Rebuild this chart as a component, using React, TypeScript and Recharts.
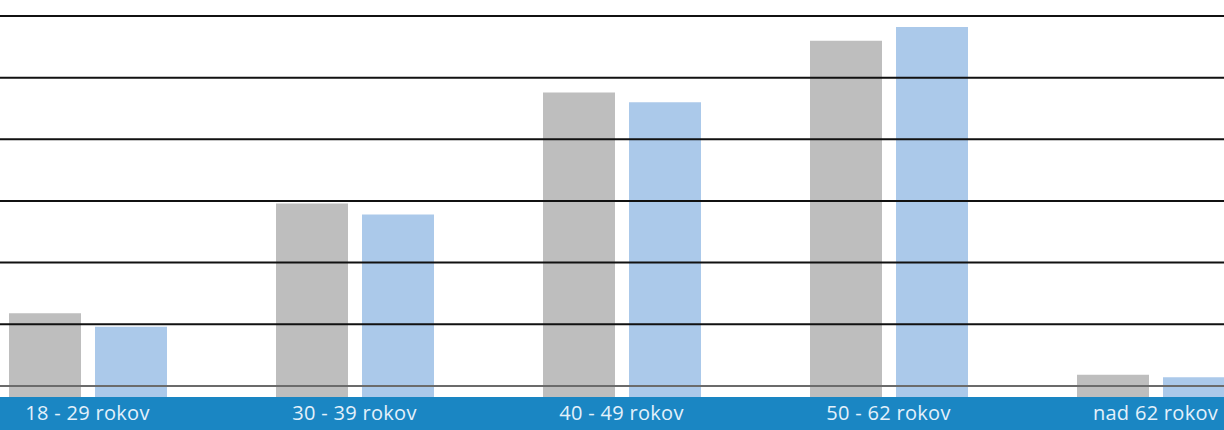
import React from 'react';
import { BarChart, Bar, XAxis, YAxis, ReferenceLine } from 'recharts';

const categories = ['18 - 29 rokov', '30 - 39 rokov', '40 - 49 rokov', '50 - 62 rokov', 'nad 62 rokov'];
const grayValues = [5.9, 14.8, 23.8, 28.0, 0.9];
const blueValues = [4.8, 13.9, 23.0, 29.1, 0.7];
const gridTicks = [5, 10, 15, 20, 25, 30];
const BAR_FLOOR = -0.9;

const data = categories.map((name, i) => ({
  name,
  gray: [BAR_FLOOR, grayValues[i]],
  blue: [BAR_FLOOR, blueValues[i]],
}));

const Tick = (props: any) => {
  const { x, y, payload } = props;
  return (
    <text x={x} y={y + 15} textAnchor="middle" fill="#e3f1fb" fontSize={20} fontFamily="'Open Sans', sans-serif" letterSpacing={0.3}>
      {payload.value}
    </text>
  );
};

export default function App() {
  return (
    <div style={{ position: 'absolute', left: 0, top: 0, width: 1224, height: 430, overflow: 'hidden', background: '#fff' }}>
      <div style={{ position: 'absolute', left: 0, top: 397, width: 1224, height: 33, background: '#1a86c3' }} />
      <div style={{ position: 'absolute', left: -46, top: 0 }}>
        <BarChart width={1335} height={430} data={data} margin={{ top: 16, right: 0, bottom: 0, left: 0 }} barSize={72} barGap={14}>
          <XAxis dataKey="name" axisLine={false} tickLine={false} height={33} tick={<Tick />} interval={0} />
          <YAxis hide domain={[BAR_FLOOR, 30]} type="number" allowDataOverflow />
          <Bar dataKey="gray" fill="#bebebe" isAnimationActive={false} />
          <Bar dataKey="blue" fill="#abc9ea" isAnimationActive={false} />
          <ReferenceLine y={0} stroke="#6b6b6b" strokeWidth={2} />
          {gridTicks.map((t) => (
            <ReferenceLine key={t} y={t} stroke="#111" strokeWidth={2} />
          ))}
        </BarChart>
      </div>
    </div>
  );
}
